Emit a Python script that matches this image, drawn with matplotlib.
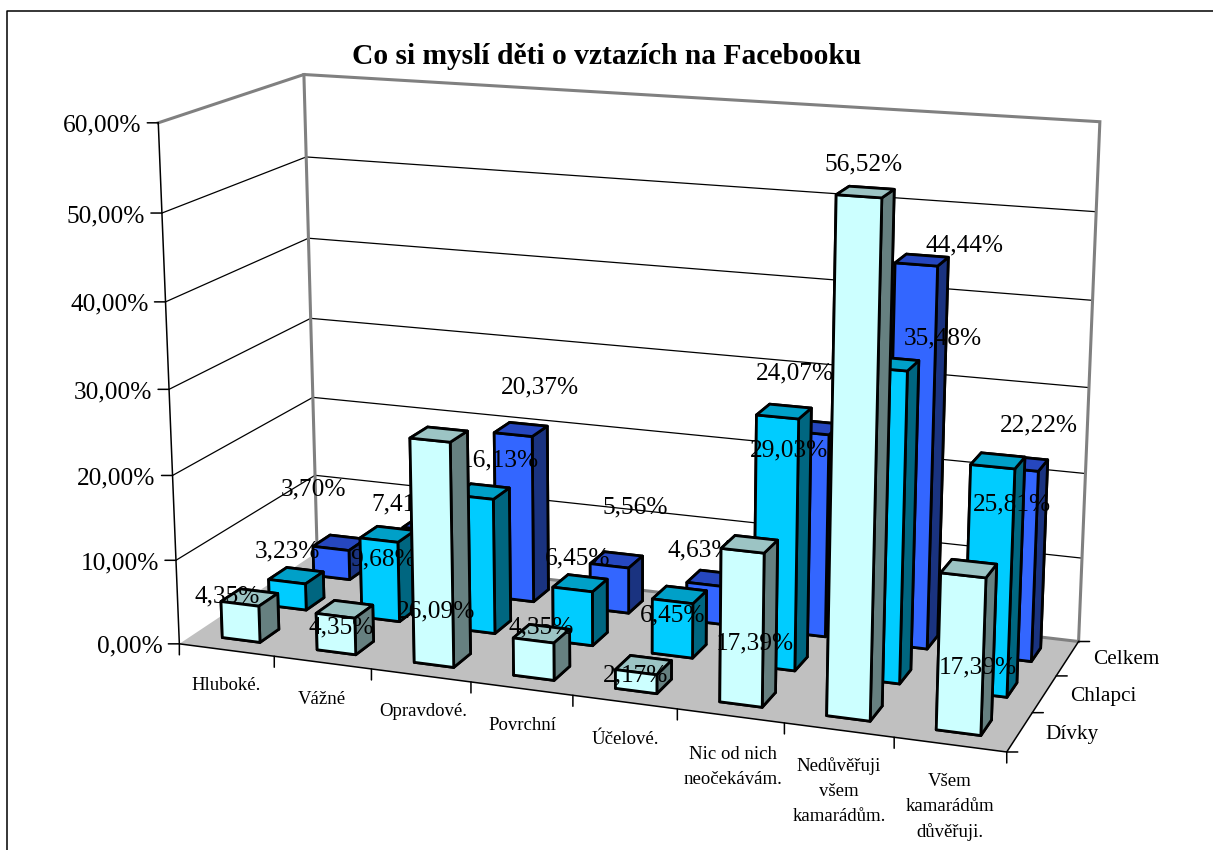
import matplotlib
matplotlib.use('Agg')
import matplotlib.pyplot as plt
from matplotlib.lines import Line2D
from mpl_toolkits.mplot3d import proj3d
from mpl_toolkits.mplot3d.art3d import Poly3DCollection

plt.rcParams['font.family'] = ['Liberation Serif', 'DejaVu Serif']

categories = ['Hluboké.', 'Vážné', 'Opravdové.', 'Povrchní', 'Účelové.',
              'Nic od nich\nneočekávám.', 'Nedůvěřuji\nvšem\nkamarádům.', 'Všem\nkamarádům\ndůvěřuji.']
series_names = ['Dívky', 'Chlapci', 'Celkem']
divky = [4.35, 4.35, 26.09, 4.35, 2.17, 17.39, 56.52, 17.39]
chlapci = [3.23, 9.68, 16.13, 6.45, 6.45, 29.03, 35.48, 25.81]
celkem = [3.70, 7.41, 20.37, 5.56, 4.63, 24.07, 44.44, 22.22]
z_ticks = [0, 10, 20, 30, 40, 50, 60]

# label centres in picture pixels, Excel puts them rather oddly
divky_lab = [(227, 594), (341, 625), (436, 609), (541, 625), (636, 673), (755, 641), (864, 162), (978, 665)]
chlapci_lab = [(287, 549), (383, 557), (500, 458), (578, 556), (673, 613), (789, 448), (943, 336), (1012, 502)]
celkem_lab = [(313, 487), (404, 502), (540, 385), (635, 505), (700, 548), (795, 371), (964, 243), (1039, 423)]
cat_lab = [(226, 684), (322, 697), (423, 709), (522, 724), (625, 737), (733, 765), (839, 789), (950, 805)]
ser_lab = [(1072, 733), (1103, 694), (1126, 658)]

W, H = 1213, 850


def fmt(v):
    return ('%.2f%%' % v).replace('.', ',')


def px(p):
    # va='center' sits a bit high for this font
    return (p[0], H - p[1] - 2)


fig = plt.figure(figsize=(W / 100, H / 100), dpi=100)
# position comes from fitting the projection on the corners of the reference box
ax = fig.add_axes([98.29 / W, -69.77 / H, 1034.66 / W, 1034.66 / H], projection='3d', computed_zorder=False)
ax.set_axis_off()
ax.view_init(elev=14.8798, azim=-69.9846, roll=-0.0176)
ax.set_proj_type('persp', focal_length=0.53689)
ax.set_box_aspect((1, 0.37405, 0.62459))
ax.set_xlim(0, 8)
ax.set_ylim(0, 3)
ax.set_zlim(0, 60)

# floor and walls
floor = Poly3DCollection([[(0, 0, 0), (8, 0, 0), (8, 3, 0), (0, 3, 0)]], facecolor='#C0C0C0', edgecolor='none', zorder=0.1)
ax.add_collection3d(floor)
for z in z_ticks[1:-1]:
    ax.plot([0, 0, 8], [0, 3, 3], [z, z, z], color='k', lw=0.9, zorder=0.2)
ax.plot([0, 0, 8, 8, 0], [0, 3, 3, 3, 3], [60, 60, 60, 0, 0], color='#808080', lw=2.2, zorder=0.3, solid_joinstyle='miter')
ax.plot([0, 0], [3, 3], [0, 60], color='#808080', lw=2.2, zorder=0.3)
ax.plot([0, 0, 8, 8], [0, 0, 0, 3], [60, 0, 0, 0], color='k', lw=1.1, zorder=0.4)

# bars, back row first, labels of a row go under the rows in front
rows = [(2, celkem, celkem_lab, ['#3366FF', '#2647BF', '#1A3380']),
        (1, chlapci, chlapci_lab, ['#00CCFF', '#00A0C8', '#006680']),
        (0, divky, divky_lab, ['#CCFFFF', '#9CC4C4', '#668080'])]
bar_w = 0.4
for row, values, labels, (front, top, side) in rows:
    base = 10 * (3 - row)
    for i, v in enumerate(values):
        faces = [top, top, front, front, side, side]
        ax.bar3d([i + 0.3], [row + 0.3], [0], bar_w, bar_w, [v], color=faces, shade=False,
                 edgecolor='k', linewidth=2.0, zorder=base)
        ax.annotate(fmt(v), xy=px(labels[i]), xycoords='figure pixels', ha='center', va='center',
                    fontsize=18.3, color='k', zorder=base + 5, annotation_clip=False)

ax.set_xlim(0, 8)
ax.set_ylim(0, 3)
ax.set_zlim(0, 60)
M = ax.get_proj()


def tick(x, y, z, dx, dy):
    sx, sy, _ = proj3d.proj_transform(x, y, z, M)
    ax.annotate('', xy=(sx, sy), xytext=(dx, dy), textcoords='offset pixels', annotation_clip=False,
                arrowprops=dict(arrowstyle='-', color='k', lw=1.1, shrinkA=0, shrinkB=0), zorder=40)
    return sx, sy


for z in z_ticks:
    sx, sy = tick(0, 0, z, -11, 0)
    ax.annotate(fmt(z), xy=(sx, sy), xytext=(-17, -3), textcoords='offset pixels', ha='right', va='center',
                fontsize=18.3, annotation_clip=False, zorder=40)
for i in range(len(categories) + 1):
    tick(i, 0, 0, 0, -11)
for j in range(len(series_names) + 1):
    tick(8, j, 0, 11, 0)

for name, p in zip(categories, cat_lab):
    ax.annotate(name, xy=px(p), xycoords='figure pixels', ha='center', va='center', multialignment='center',
                fontsize=13.5, linespacing=1.6, annotation_clip=False, zorder=40)
for name, p in zip(series_names, ser_lab):
    ax.annotate(name, xy=px(p), xycoords='figure pixels', ha='center', va='center',
                fontsize=15.3, annotation_clip=False, zorder=40)

fig.text(606.5 / W, 1 - 57 / H, 'Co si myslí děti o vztazích na Facebooku', fontsize=21.25, fontweight='bold',
         ha='center', va='center')

# chart area border, cut off on the right and at the bottom in the source
fig.add_artist(Line2D([7 / W, 7 / W, 1], [0, 1 - 11 / H, 1 - 11 / H], color='k', lw=1.1))

fig.savefig('out.png', dpi=100)
